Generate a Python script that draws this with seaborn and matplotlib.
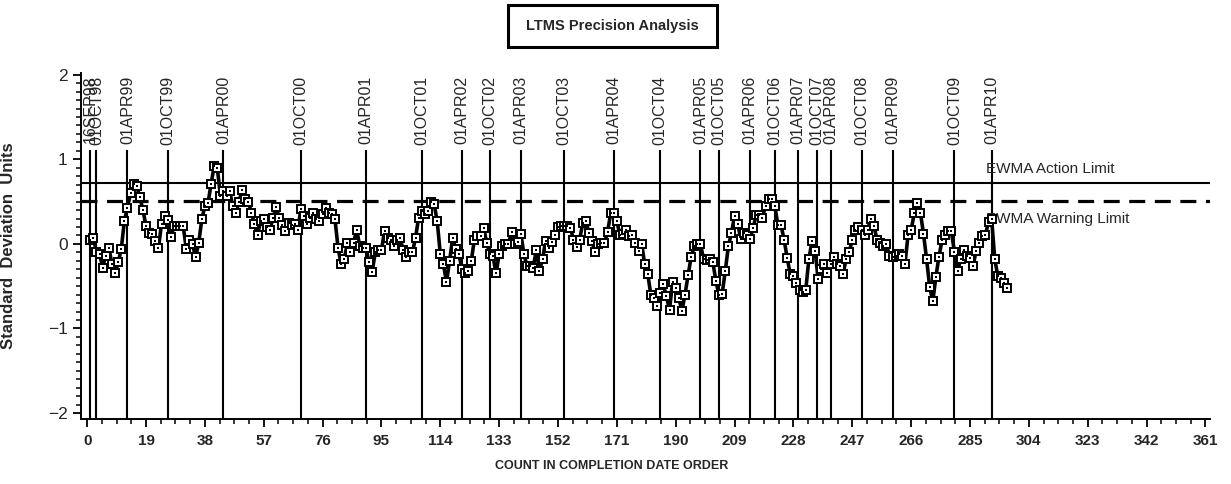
import matplotlib
matplotlib.use('Agg')
import numpy as np
import pandas as pd
import seaborn as sns
import matplotlib.pyplot as plt
from matplotlib import font_manager
from matplotlib.patches import Rectangle
from matplotlib.ticker import MultipleLocator

# EWMA values in standard deviation units, in completion date order
ewma = [
    0.05, 0.07, -0.10, -0.12, -0.28, -0.14, -0.05, -0.24, -0.35, -0.22,
    -0.06, 0.27, 0.43, 0.60, 0.71, 0.68, 0.55, 0.40, 0.21, 0.13,
    0.12, 0.03, -0.05, 0.24, 0.33, 0.28, 0.08, 0.21, 0.21, 0.21,
    0.21, -0.06, 0.05, 0.00, -0.16, 0.01, 0.29, 0.45, 0.48, 0.71,
    0.92, 0.90, 0.57, 0.63, 0.57, 0.62, 0.45, 0.37, 0.50, 0.64,
    0.53, 0.50, 0.37, 0.23, 0.11, 0.27, 0.29, 0.20, 0.17, 0.31,
    0.44, 0.31, 0.22, 0.15, 0.25, 0.22, 0.23, 0.17, 0.41, 0.33,
    0.23, 0.31, 0.37, 0.30, 0.27, 0.35, 0.43, 0.37, 0.35, 0.29,
    -0.05, -0.24, -0.18, 0.01, -0.10, 0.01, 0.17, -0.03, -0.05, -0.05,
    -0.22, -0.33, -0.10, -0.07, -0.07, 0.15, 0.07, 0.05, -0.03, 0.05,
    0.07, -0.07, -0.16, -0.10, -0.10, 0.07, 0.31, 0.39, 0.35, 0.39,
    0.49, 0.47, 0.27, -0.12, -0.24, -0.45, -0.20, 0.07, -0.06, -0.12,
    -0.30, -0.34, -0.32, -0.20, 0.05, 0.09, 0.09, 0.19, 0.01, -0.12,
    -0.14, -0.35, -0.12, -0.03, 0.00, 0.00, 0.14, 0.00, 0.02, 0.12,
    -0.12, -0.26, -0.26, -0.28, -0.07, -0.32, -0.18, 0.03, -0.05, 0.02,
    0.10, 0.20, 0.21, 0.21, 0.21, 0.19, 0.05, -0.04, 0.05, 0.25,
    0.27, 0.13, 0.03, -0.10, 0.00, 0.01, 0.01, 0.14, 0.36, 0.36,
    0.27, 0.10, 0.12, 0.16, 0.09, 0.11, 0.01, -0.08, 0.00, -0.24,
    -0.36, -0.61, -0.64, -0.74, -0.58, -0.48, -0.62, -0.78, -0.45, -0.52,
    -0.64, -0.79, -0.60, -0.37, -0.15, -0.03, 0.00, 0.00, -0.18, -0.19,
    -0.18, -0.22, -0.44, -0.61, -0.59, -0.32, -0.03, 0.13, 0.33, 0.24,
    0.06, 0.13, 0.10, 0.06, 0.19, 0.34, 0.34, 0.31, 0.45, 0.53,
    0.53, 0.45, 0.22, 0.22, 0.05, -0.17, -0.36, -0.38, -0.46, -0.54,
    -0.57, -0.54, -0.18, 0.03, -0.08, -0.42, -0.30, -0.24, -0.35, -0.24,
    -0.15, -0.24, -0.26, -0.36, -0.18, -0.10, 0.05, 0.16, 0.20, 0.17,
    0.10, 0.17, 0.30, 0.21, 0.05, 0.01, -0.03, 0.00, -0.14, -0.16,
    -0.14, -0.12, -0.14, -0.24, 0.10, 0.16, 0.36, 0.48, 0.37, 0.12,
    -0.18, -0.51, -0.68, -0.39, -0.15, 0.05, 0.10, 0.15, 0.15, -0.10,
    -0.32, -0.18, -0.07, -0.14, -0.17, -0.26, -0.08, 0.01, 0.09, 0.11,
    0.26, 0.30, -0.18, -0.38, -0.40, -0.46, -0.52,
]
count = list(range(1, len(ewma) + 1))

date_labels = ['16SEP98', '01OCT98', '01APR99', '01OCT99', '01APR00', '01OCT00',
               '01APR01', '01OCT01', '01APR02', '01OCT02', '01APR03', '01OCT03',
               '01APR04', '01OCT04', '01APR05', '01OCT05', '01APR06', '01OCT06',
               '01APR07', '01OCT07', '01APR08', '01OCT08', '01APR09', '01OCT09',
               '01APR10']
date_pos = [1, 3, 13, 26, 44, 69, 90, 108, 121, 130, 140, 154, 170, 185,
            198, 204, 214, 222, 229.5, 235.5, 240, 250, 260, 280, 292]

action_limit = 0.72
warning_limit = 0.51

sns.set_style('ticks')
plt.rcParams['font.family'] = ['Liberation Sans', 'DejaVu Sans']
names = {f.name for f in font_manager.fontManager.ttflist}
narrow = 'Liberation Sans Narrow' if 'Liberation Sans Narrow' in names else 'Liberation Sans'

fig = plt.figure(figsize=(12.31, 4.84), dpi=100)
ax = fig.add_axes([81 / 1231, 65 / 484, 1129 / 1231, 346 / 484])

ymin, ymax = -2.07, 2.02
ax.vlines(date_pos, ymin, 1.11, color='black', lw=1.5, zorder=1)
for p, lab in zip(date_pos, date_labels):
    ax.text(p, 1.99, lab, rotation=90, ha='center', va='top', fontsize=11.5,
            family=[narrow, 'DejaVu Sans'])

ax.axhline(action_limit, color='black', lw=1.5, zorder=2)
ax.axhline(warning_limit, color='black', lw=2.3, dashes=(5, 3), zorder=2)

df = pd.DataFrame({'count': count, 'ewma': ewma})
sns.lineplot(data=df, x='count', y='ewma', color='black', lw=2.6, marker='s',
             markersize=5.5, markerfacecolor='white', markeredgecolor='black',
             markeredgewidth=1.4, ax=ax, zorder=5)
# little inner mark of the SAS plot symbol
sns.scatterplot(data=df, x='count', y='ewma', color='black', marker='s', s=2,
                linewidth=0, ax=ax, zorder=6)

ax.text(290.3, 0.88, 'EWMA Action Limit', va='center', ha='left', fontsize=11,
        family=[narrow, 'DejaVu Sans'])
ax.text(290.3, 0.29, 'EWMA Warning Limit', va='center', ha='left', fontsize=11,
        family=[narrow, 'DejaVu Sans'])

ax.set_xlim(-2, 362.5)
ax.set_ylim(ymin, ymax)
ax.xaxis.set_major_locator(MultipleLocator(19))
ax.xaxis.set_minor_locator(MultipleLocator(4.75))
ax.yaxis.set_major_locator(MultipleLocator(1))
ax.yaxis.set_minor_locator(MultipleLocator(0.1))
ax.tick_params(which='major', direction='out', length=6, width=1.3, color='black')
ax.tick_params(which='minor', direction='out', length=3.5, width=1.1, color='black')
ax.tick_params(axis='x', labelsize=11, pad=5)
ax.tick_params(axis='y', labelsize=12.5)
for t in ax.get_xticklabels():
    t.set_fontweight('bold')
sns.despine(ax=ax)
for s in ['left', 'bottom']:
    ax.spines[s].set_linewidth(1.4)
    ax.spines[s].set_color('black')

ax.set_xlabel('')
ax.set_ylabel('Standard  Deviation  Units', fontsize=12, fontweight='bold')
ax.yaxis.set_label_coords(-0.058, 0.5)
fig.text(0.497, 1 - 466 / 484, 'COUNT IN COMPLETION DATE ORDER', ha='center',
         va='center', fontsize=9, fontweight='bold')

fig.text(612 / 1231, 1 - 26 / 484, 'LTMS Precision Analysis', ha='center',
         va='center', fontsize=10.5, fontweight='bold', family=[narrow, 'DejaVu Sans'])
fig.add_artist(Rectangle((508 / 1231, 1 - 47 / 484), 209 / 1231, 42 / 484,
                         transform=fig.transFigure, fill=False, lw=2.2,
                         edgecolor='black'))

fig.savefig('out.png', dpi=100)
